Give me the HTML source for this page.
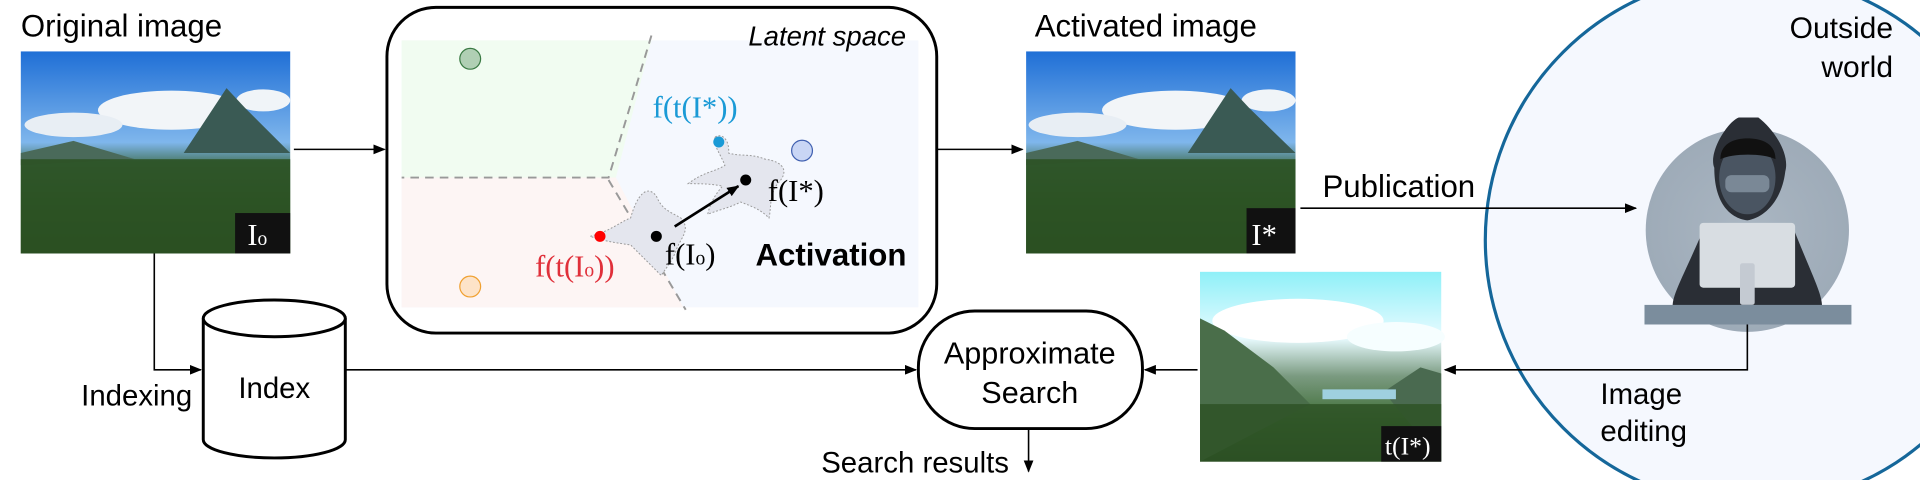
<!DOCTYPE html>
<html><head><meta charset="utf-8"><style>
html,body{margin:0;padding:0;background:#fff;overflow:hidden;}
svg{display:block;}
text{font-family:"Liberation Sans",sans-serif;}
.serif{font-family:"Liberation Serif",serif;}
</style></head><body>
<svg width="1920" height="480" viewBox="0 0 1568 392" preserveAspectRatio="none" xmlns="http://www.w3.org/2000/svg">
<defs>
<marker id="ah" markerWidth="10" markerHeight="8" refX="9" refY="4" orient="auto" markerUnits="userSpaceOnUse"><path d="M0,0 L10,4 L0,8 z" fill="#000"/></marker>
<linearGradient id="sky" x1="0" y1="0" x2="0" y2="1"><stop offset="0" stop-color="#1f6fd6"/><stop offset="0.45" stop-color="#7fb6ec"/><stop offset="0.55" stop-color="#4a7a6a"/><stop offset="0.75" stop-color="#2e5a2a"/><stop offset="1" stop-color="#1d3a16"/></linearGradient>
<linearGradient id="sky2" x1="0" y1="0" x2="0" y2="1"><stop offset="0" stop-color="#8ff0f8"/><stop offset="0.35" stop-color="#e8fbff"/><stop offset="0.55" stop-color="#7a9a80"/><stop offset="0.8" stop-color="#3a6a30"/><stop offset="1" stop-color="#24441c"/></linearGradient>
<radialGradient id="hk" cx="0.5" cy="0.5" r="0.5"><stop offset="0" stop-color="#aab6c2"/><stop offset="1" stop-color="#9eabb8"/></radialGradient>
</defs>

<circle cx="1430" cy="196" r="217" fill="#f5f8fe" stroke="#15679a" stroke-width="2.6"/>

<text x="17" y="30" font-size="25.5">Original image</text>
<text x="845" y="30" font-size="25.5">Activated image</text>

<g>
<rect x="17" y="42" width="220" height="165" fill="url(#sky)"/>
<ellipse cx="140" cy="90" rx="60" ry="16" fill="#f2f5f8"/>
<ellipse cx="60" cy="102" rx="40" ry="10" fill="#e8eef4"/>
<ellipse cx="215" cy="82" rx="22" ry="9" fill="#f0f4f8"/>
<path d="M150,125 L185,72 L200,88 L237,125 Z" fill="#3a5a54"/>
<path d="M17,125 L60,115 L110,130 L17,135 Z" fill="#4a6a5a"/>
<rect x="17" y="130" width="220" height="77" fill="#2c5224" opacity="0.9"/>
<rect x="192" y="174" width="45" height="33" fill="#111"/>
<text x="202" y="200" font-size="25" fill="#fff" class="serif">I<tspan font-size="16">o</tspan></text>
</g>

<g>
<rect x="838" y="42" width="220" height="165" fill="url(#sky)"/>
<ellipse cx="960" cy="90" rx="60" ry="16" fill="#f2f5f8"/>
<ellipse cx="880" cy="102" rx="40" ry="10" fill="#e8eef4"/>
<ellipse cx="1036" cy="82" rx="22" ry="9" fill="#f0f4f8"/>
<path d="M970,125 L1005,72 L1020,88 L1058,125 Z" fill="#3a5a54"/>
<path d="M838,125 L880,115 L930,130 L838,135 Z" fill="#4a6a5a"/>
<rect x="838" y="130" width="220" height="77" fill="#2c5224" opacity="0.9"/>
<rect x="1018" y="170" width="40" height="37" fill="#111"/>
<text x="1022" y="200" font-size="25" fill="#fff" class="serif">I*</text>
</g>

<g>
<rect x="980" y="222" width="197" height="155" fill="url(#sky2)"/>
<ellipse cx="1060" cy="262" rx="70" ry="18" fill="#fff"/>
<ellipse cx="1140" cy="275" rx="40" ry="12" fill="#f6feff"/>
<path d="M980,260 L1000,270 L1040,300 L1070,330 L980,377 Z" fill="#4a6e4a"/>
<path d="M1130,320 L1160,300 L1177,305 L1177,377 Z" fill="#4a6a50"/>
<rect x="1080" y="318" width="60" height="8" fill="#9fd0e0"/>
<rect x="980" y="330" width="197" height="47" fill="#2e5226" opacity="0.85"/>
<rect x="1128" y="348" width="49" height="29" fill="#111"/>
<text x="1131" y="371" font-size="21" fill="#fff" class="serif">t(I*)</text>
</g>

<line x1="240" y1="122" x2="314" y2="122" stroke="#000" stroke-width="1.3" marker-end="url(#ah)"/>
<rect x="316" y="6" width="449" height="266" rx="40" fill="#fff" stroke="#000" stroke-width="2.4"/>
<rect x="328" y="33" width="422" height="218" fill="#f5f8fe"/>
<path d="M328,33 L532,33 L503,145 L328,145 Z" fill="#f1fcf1"/>
<path d="M328,145 L503,145 L558,251 L328,251 Z" fill="#fdf5f4"/>
<path d="M532,29 L497,145 L328,145" fill="none" stroke="#999" stroke-width="1.6" stroke-dasharray="7,5"/>
<path d="M497,147 L560,253" fill="none" stroke="#999" stroke-width="1.6" stroke-dasharray="7,5"/>
<text x="740" y="37" font-size="22.5" font-style="italic" text-anchor="end">Latent space</text>
<circle cx="384" cy="48" r="8.5" fill="#b0cfb4" stroke="#3a7a44" stroke-width="1"/>
<circle cx="384" cy="234" r="8.5" fill="#fde3c8" stroke="#f0a030" stroke-width="1"/>
<circle cx="655" cy="123" r="8.5" fill="#c9d6f5" stroke="#4060b0" stroke-width="1"/>
<path d="M482,193 C500,188 505,182 515,178 C520,160 528,150 536,160 C540,170 545,172 556,178 C565,188 555,195 552,205 C548,215 543,220 540,225 C530,215 520,205 515,200 C500,198 490,196 482,193 Z" fill="#e4e6ee" stroke="#999" stroke-width="0.8" stroke-dasharray="1.5,1.5"/>
<path d="M584,112 C590,108 596,115 595,125 C605,128 612,125 625,130 C640,132 645,140 635,150 C628,160 630,170 628,178 C620,170 612,168 605,165 C595,170 585,172 578,175 C580,165 585,158 590,152 C580,150 572,150 562,150 C575,140 585,140 592,135 C588,125 582,118 584,112 Z" fill="#e4e6ee" stroke="#999" stroke-width="0.8" stroke-dasharray="1.5,1.5"/>
<circle cx="490" cy="193" r="4.5" fill="#f00"/>
<circle cx="587" cy="116" r="4.5" fill="#1a9ad6"/>
<circle cx="536" cy="193" r="4.5" fill="#000"/>
<circle cx="609" cy="147" r="4.5" fill="#000"/>
<line x1="551" y1="185" x2="603" y2="152" stroke="#000" stroke-width="2.2" marker-end="url(#ah)"/>
<text x="533" y="96" font-size="25" fill="#1a9ad6" class="serif">f(t(I*))</text>
<text x="627" y="164" font-size="25" class="serif">f(I*)</text>
<text x="543" y="216" font-size="25" class="serif">f(I<tspan font-size="16">o</tspan>)</text>
<text x="437" y="226" font-size="25" fill="#e0303a" class="serif">f(t(I<tspan font-size="16">o</tspan>))</text>
<text x="617" y="217" font-size="25.5" font-weight="bold">Activation</text>

<line x1="765" y1="122" x2="835" y2="122" stroke="#000" stroke-width="1.3" marker-end="url(#ah)"/>

<line x1="1062" y1="170" x2="1336" y2="170" stroke="#000" stroke-width="1.3" marker-end="url(#ah)"/>
<text x="1080" y="161" font-size="25.5">Publication</text>

<text x="1546" y="31" font-size="24.5" text-anchor="end">Outside</text>
<text x="1546" y="63" font-size="24.5" text-anchor="end">world</text>

<circle cx="1427" cy="188" r="83" fill="url(#hk)"/>
<path d="M1366,250 C1366,240 1375,225 1390,190 C1400,182 1455,182 1466,190 C1480,225 1488,240 1488,250 Z" fill="#2a2e35"/>
<path d="M1400,137 C1395,125 1410,100 1420,96 L1436,96 C1448,105 1462,125 1458,140 C1455,165 1440,178 1427,180 C1412,178 1400,165 1400,137 Z" fill="#2a2e35"/>
<ellipse cx="1427" cy="145" rx="23" ry="30" fill="#4a5562"/>
<path d="M1405,130 C1405,115 1420,113 1427,113 C1435,113 1450,115 1450,130 C1440,125 1415,125 1405,130 Z" fill="#111"/>
<rect x="1409" y="143" width="36" height="14" rx="5" fill="#7a8896"/>
<rect x="1388" y="182" width="78" height="53" rx="3" fill="#d8dde2"/>
<rect x="1421" y="215" width="12" height="34" rx="2" fill="#c4cad2"/>
<rect x="1343" y="249" width="169" height="16" fill="#7b8d9d"/>
<path d="M1427,265 L1427,302 L1180,302" fill="none" stroke="#000" stroke-width="1.3" marker-end="url(#ah)"/>
<text x="1307" y="330" font-size="24">Image</text>
<text x="1307" y="360" font-size="24">editing</text>

<line x1="978" y1="302" x2="935" y2="302" stroke="#000" stroke-width="1.3" marker-end="url(#ah)"/>
<rect x="750" y="254" width="183" height="96" rx="46" fill="#fff" stroke="#000" stroke-width="2.4"/>
<text x="841" y="297" font-size="25" text-anchor="middle">Approximate</text>
<text x="841" y="329" font-size="25" text-anchor="middle">Search</text>
<line x1="840" y1="350" x2="840" y2="385" stroke="#000" stroke-width="1.3" marker-end="url(#ah)"/>
<text x="824" y="386" font-size="24" text-anchor="end">Search results</text>

<path d="M126,207 L126,302 L164,302" fill="none" stroke="#000" stroke-width="1.3" marker-end="url(#ah)"/>
<text x="157" y="331" font-size="24" text-anchor="end">Indexing</text>
<path d="M166,260 L166,359 A58,15 0 0 0 282,359 L282,260" fill="#fff" stroke="#000" stroke-width="2.4"/>
<ellipse cx="224" cy="260" rx="58" ry="15" fill="#fff" stroke="#000" stroke-width="2.4"/>
<text x="224" y="325" font-size="24" text-anchor="middle">Index</text>
<line x1="282" y1="302" x2="748" y2="302" stroke="#000" stroke-width="1.3" marker-end="url(#ah)"/>
</svg>
</body></html>
